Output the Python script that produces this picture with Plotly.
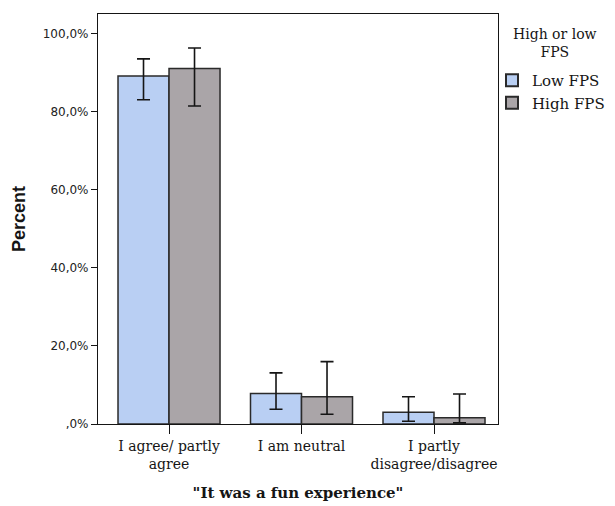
import plotly.graph_objects as go

# Response categories (x axis) and group percentages
categories = ["I agree/ partly<br>agree", "I am neutral", "I partly<br>disagree/disagree"]
low_fps = [89.2, 7.8, 3.0]
high_fps = [91.1, 7.0, 1.6]

# 95% confidence interval bounds for each bar
low_ci_upper = [93.6, 13.1, 7.0]
low_ci_lower = [83.1, 3.8, 0.7]
high_ci_upper = [96.4, 16.0, 7.7]
high_ci_lower = [81.5, 2.5, 0.3]

y_tick_vals = [0, 20, 40, 60, 80, 100]
y_tick_text = [",0%", "20,0%", "40,0%", "60,0%", "80,0%", "100,0%"]

SERIF = "DejaVu Serif, Liberation Serif, serif"
SANS = "DejaVu Sans, Arial, sans-serif"
INK = "#151515"


def err(values, upper, lower):
    return dict(
        type="data",
        symmetric=False,
        array=[u - v for u, v in zip(upper, values)],
        arrayminus=[v - l for v, l in zip(values, lower)],
        color=INK,
        thickness=1.6,
        width=6.5,
    )


fig = go.Figure()
fig.add_trace(go.Bar(
    x=categories, y=low_fps, name="Low FPS",
    marker=dict(color="#b9cff3", line=dict(color="#2a2a2a", width=1.5)),
    error_y=err(low_fps, low_ci_upper, low_ci_lower),
))
fig.add_trace(go.Bar(
    x=categories, y=high_fps, name="High FPS",
    marker=dict(color="#aaa5a8", line=dict(color="#2a2a2a", width=1.5)),
    error_y=err(high_fps, high_ci_upper, high_ci_lower),
))

# Legend heading, centred above the legend entries
fig.add_annotation(
    text="High or low<br>FPS", xref="paper", yref="paper",
    x=1.1425, y=0.975, xanchor="center", yanchor="top",
    showarrow=False, align="center",
    font=dict(family=SERIF, size=14, color=INK),
)

fig.update_layout(
    width=615, height=506,
    margin=dict(l=98, r=117, t=14, b=82, autoexpand=False),
    paper_bgcolor="white", plot_bgcolor="white",
    barmode="group", bargap=0.23, bargroupgap=0,
    showlegend=True,
    legend=dict(
        x=0.985, y=0.878, xanchor="left", yanchor="top",
        font=dict(family=SERIF, size=15, color=INK),
        itemsizing="constant", tracegroupgap=0,
        bgcolor="rgba(0,0,0,0)",
    ),
    xaxis=dict(
        range=[-0.536, 2.483],
        showline=True, linecolor=INK, linewidth=1.2, mirror=True,
        ticks="outside", ticklen=9, tickcolor=INK, tickwidth=1.2,
        tickfont=dict(family=SERIF, size=14, color=INK),
        title=dict(text='<b>"It was a fun experience"</b>',
                   font=dict(family=SERIF, size=15, color=INK), standoff=16),
        showgrid=False, automargin=False,
    ),
    yaxis=dict(
        range=[0, 105.1],
        showline=True, linecolor=INK, linewidth=1.2, mirror=True,
        ticks="outside", ticklen=6, tickcolor=INK, tickwidth=1.2,
        tickvals=y_tick_vals, ticktext=y_tick_text,
        tickfont=dict(family=SANS, size=12, color="#222"),
        title=dict(text="<b>Percent</b>",
                   font=dict(family="Liberation Sans, Arial, sans-serif", size=18, color=INK),
                   standoff=12),
        showgrid=False, zeroline=False, automargin=False,
    ),
)

fig.write_html("out.html")
